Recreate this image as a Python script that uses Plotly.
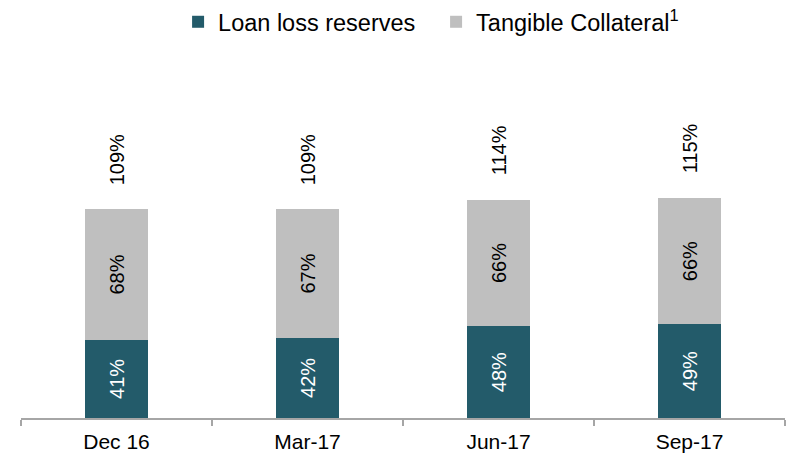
import plotly.graph_objects as go

categories = ["Dec 16", "Mar-17", "Jun-17", "Sep-17"]
loan_loss_reserves = [41, 42, 48, 49]
tangible_collateral = [68, 67, 66, 66]
totals = [109, 109, 114, 115]

DARK = "#235B6A"
GRAY = "#BFBFBF"
FONT = "Liberation Sans, Arial, sans-serif"

fig = go.Figure()
fig.add_trace(go.Bar(
    x=categories, y=loan_loss_reserves, name="Loan loss reserves",
    marker=dict(color=DARK, line=dict(width=0)),
    text=[f"{v}%" for v in loan_loss_reserves], textposition="inside",
    insidetextanchor="middle", textangle=-90, constraintext="none",
    insidetextfont=dict(color="white", size=20, family=FONT),
    hoverinfo="skip",
))
fig.add_trace(go.Bar(
    x=categories, y=tangible_collateral, name="Tangible Collateral<sup>1</sup>",
    marker=dict(color=GRAY, line=dict(width=0)),
    text=[f"{v}%" for v in tangible_collateral], textposition="inside",
    insidetextanchor="middle", textangle=-90, constraintext="none",
    insidetextfont=dict(color="black", size=20, family=FONT),
    hoverinfo="skip",
))

for c, t in zip(categories, totals):
    fig.add_annotation(
        x=c, y=t, text=f"{t}%", showarrow=False, textangle=-90,
        yanchor="bottom", xanchor="center", yshift=22,
        font=dict(size=20, color="black", family=FONT),
    )

fig.update_layout(
    width=788, height=456,
    barmode="stack", bargap=0.675,
    plot_bgcolor="white", paper_bgcolor="white",
    margin=dict(l=21, r=3, t=60, b=38),
    font=dict(family=FONT, color="black", size=20),
    showlegend=True,
    legend=dict(
        orientation="h", xref="container", x=0.226, xanchor="left",
        yref="container", y=1.0, yanchor="top",
        font=dict(size=23.5, color="black", family=FONT),
        traceorder="normal", itemwidth=30,
        entrywidth=213, entrywidthmode="pixels",
        bgcolor="rgba(0,0,0,0)",
    ),
    xaxis=dict(
        automargin=False,
        showline=True, linecolor="#A6A6A6", linewidth=1.5,
        ticks="outside", tickson="boundaries", ticklen=6,
        tickcolor="#A6A6A6", tickwidth=1.5, ticklabelstandoff=4,
        tickfont=dict(size=21, color="black", family=FONT),
        showgrid=False, zeroline=False,
    ),
    yaxis=dict(
        automargin=False,
        range=[0, 187], visible=False, showgrid=False, zeroline=False,
    ),
)

fig.write_html(
    "out.html",
    config={"displayModeBar": False},
    post_script="document.body.style.margin='0px';",
)
